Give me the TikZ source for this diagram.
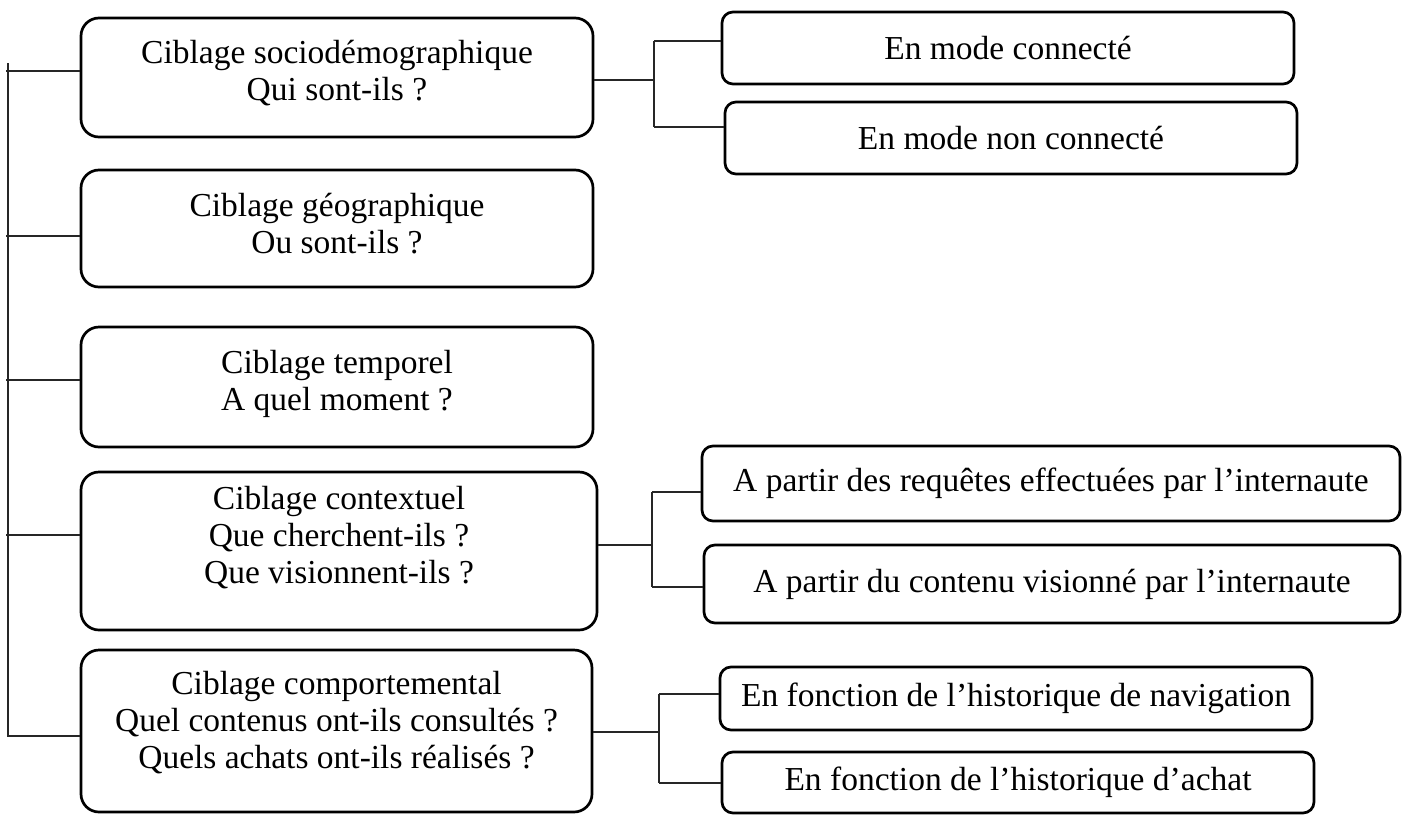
\documentclass[tikz,border=0pt]{standalone}
\usepackage{fontspec}
\setmainfont{Liberation Serif}
\begin{document}
\begin{tikzpicture}[x=1pt,y=-1pt,
  mbox/.style={draw=black, line width=2.7pt, rounded corners=18pt, inner sep=0pt},
  rbox/.style={draw=black, line width=2.7pt, rounded corners=11pt, align=center, inner sep=0pt,
    font=\fontsize{33.5}{36}\selectfont},
  txt/.style={align=center, inner sep=0pt, font=\fontsize{33.5}{37}\selectfont},
  conn/.style={draw=black!85, line width=1.3pt}]
\useasboundingbox (0,0) rectangle (1407,814);
% main boxes
\node[mbox, minimum width=512pt, minimum height=119pt] (b1) at (337,77.5) {};
\node[mbox, minimum width=512pt, minimum height=117pt] (b2) at (337,228.5) {};
\node[mbox, minimum width=512pt, minimum height=120pt] (b3) at (337,387) {};
\node[mbox, minimum width=516pt, minimum height=158pt] (b4) at (339,551) {};
\node[mbox, minimum width=511pt, minimum height=162pt] (b5) at (336.5,731) {};
\node[txt] (b1t) at ([yshift=4pt]b1.center) {Ciblage sociodémographique\\Qui sont-ils ?};
\node[txt] (b2t) at ([yshift=5pt]b2.center) {Ciblage géographique\\Ou sont-ils ?};
\node[txt] (b3t) at ([yshift=3pt]b3.center) {Ciblage temporel\\A quel moment ?};
\node[txt] (b4t) at ([yshift=13pt]b4.center) {Ciblage contextuel\\Que cherchent-ils ?\\Que visionnent-ils ?};
\node[txt] (b5t) at ([yshift=8pt]b5.center) {Ciblage comportemental\\Quel contenus ont-ils consultés ?\\Quels achats ont-ils réalisés ?};
% right boxes
\node[rbox, minimum width=572pt, minimum height=72pt] (r1) at (1008,48) {En mode connecté};
\node[rbox, minimum width=572pt, minimum height=72pt] (r2) at (1011,138) {En mode non connecté};
\node[rbox, minimum width=698pt, minimum height=75pt] (r3) at (1051,483.5) {A partir des requêtes effectuées par l’internaute};
\node[rbox, minimum width=696pt, minimum height=78pt] (r4) at (1052,584) {A partir du contenu visionné par l’internaute};
\node[rbox, minimum width=592pt, minimum height=63pt] (r5) at (1016,698.5) {En fonction de l’historique de navigation};
\node[rbox, minimum width=592pt, minimum height=61pt] (r6) at (1018,782.5) {En fonction de l’historique d’achat};
% trunk
\coordinate (tt) at (8,63);
\coordinate (tb) at (8,736);
\coordinate (t1) at (6,71);
\coordinate (t2) at (6,236);
\coordinate (t3) at (6,380);
\coordinate (t4) at (6,535);
\draw[conn] (tt) -- (tb) -- (tb -| b5.west);
\draw[conn] (t1) -- (t1 -| b1.west);
\draw[conn] (t2) -- (t2 -| b2.west);
\draw[conn] (t3) -- (t3 -| b3.west);
\draw[conn] (t4) -- (t4 -| b4.west);
% branch 1
\coordinate (j1) at (654,80);
\coordinate (j1t) at (654,41);
\coordinate (j1b) at (654,127);
\draw[conn] (j1 -| b1.east) -- (j1);
\draw[conn] (j1t) -- (j1b);
\draw[conn] (j1t) -- (j1t -| r1.west);
\draw[conn] (j1b) -- (j1b -| r2.west);
% branch 4
\coordinate (j4) at (652,545);
\coordinate (j4t) at (652,492);
\coordinate (j4b) at (652,587);
\draw[conn] (j4 -| b4.east) -- (j4);
\draw[conn] (j4t) -- (j4b);
\draw[conn] (j4t) -- (j4t -| r3.west);
\draw[conn] (j4b) -- (j4b -| r4.west);
% branch 5
\coordinate (j5) at (659,732);
\coordinate (j5t) at (659,694);
\coordinate (j5b) at (659,783);
\draw[conn] (j5 -| b5.east) -- (j5);
\draw[conn] (j5t) -- (j5b);
\draw[conn] (j5t) -- (j5t -| r5.west);
\draw[conn] (j5b) -- (j5b -| r6.west);
\end{tikzpicture}
\end{document}
